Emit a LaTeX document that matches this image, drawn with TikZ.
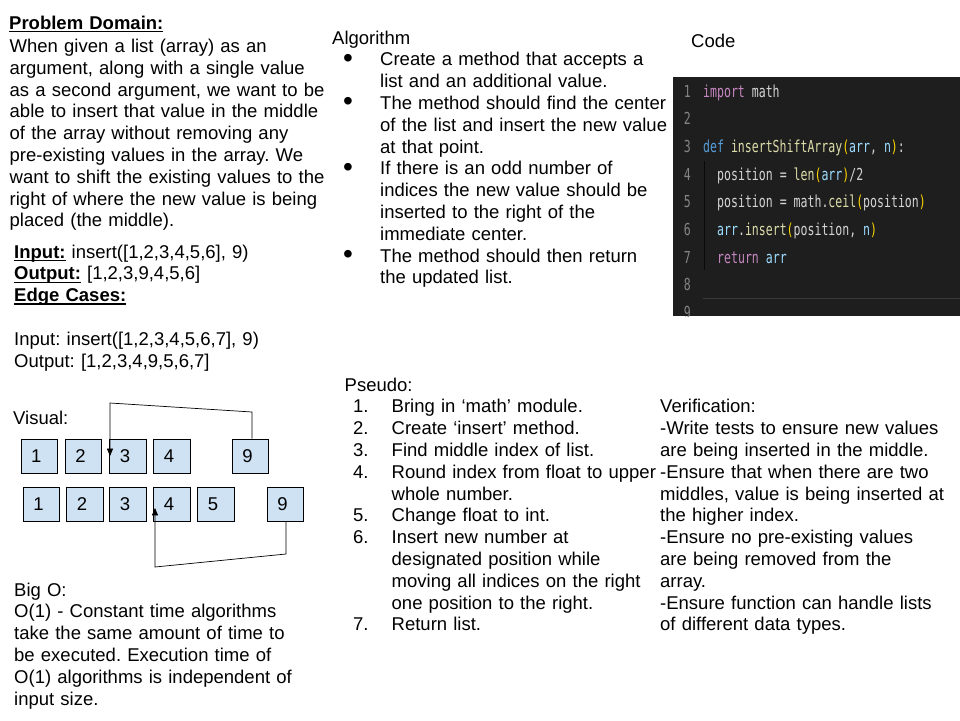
\documentclass[tikz,border=0pt]{standalone}
\usepackage{fontspec}
\setmainfont{Liberation Sans}
\newfontfamily\codefont[FakeStretch=0.70]{DejaVu Sans Mono}
\usetikzlibrary{arrows}
\frenchspacing
\definecolor{cellblue}{HTML}{CFE2F3}
\definecolor{codebg}{HTML}{1E1E1E}
\definecolor{codefg}{HTML}{D4D4D4}
\definecolor{lnfg}{HTML}{858585}
\definecolor{kwpurple}{HTML}{C586C0}
\definecolor{kwblue}{HTML}{569CD6}
\definecolor{fnyellow}{HTML}{DCDCAA}
\definecolor{brgold}{HTML}{FFD700}
\definecolor{param}{HTML}{9CDCFE}
\tikzstyle{txt}=[anchor=base west, inner sep=0pt, text width=340pt, align=left, font=\fontsize{18.5}{21.8}\selectfont]
\tikzstyle{cell}=[draw=black, line width=0.8pt, fill=cellblue, minimum height=34pt, text width=16.5pt, inner xsep=10pt, inner ysep=0pt, align=left, font=\fontsize{18.5}{21.8}\selectfont]
\tikzstyle{link}=[draw=black, line width=0.7pt, -triangle 45]
\tikzstyle{codeline}=[anchor=base west, inner sep=0pt, text=codefg, font=\codefont\fontsize{16.5}{16.5}\selectfont]
\tikzstyle{lnum}=[anchor=base east, inner sep=0pt, text=lnfg, font=\codefont\fontsize{16.5}{16.5}\selectfont]
\newcommand{\ulhead}[1]{\leavevmode\setbox0\hbox{\textbf{#1}}\rlap{\rule[-3.2pt]{\wd0}{1.5pt}}\box0\relax}
\newcommand{\bl}{\leavevmode\hspace*{11pt}\makebox[37pt][l]{\raisebox{-1.5pt}{\fontsize{28}{30}\selectfont\textbullet}}}
\newcommand{\bi}{\leavevmode\hspace*{48pt}}
\newcommand{\pn}[1]{\leavevmode\hspace*{8.5pt}\makebox[38.5pt][l]{#1}}
\newcommand{\br}[1]{\textcolor{brgold}{#1}}

\begin{document}
\begin{tikzpicture}[x=1pt,y=-1pt]
	\useasboundingbox[fill=white] (0,0) rectangle (960,720);
	% Problem Domain
	\node[txt] (domhead) at (9,29) {\ulhead{Problem Domain:}};
	\node[txt] (dombody) at (9.5,52.5) {When given a list (array) as an\\
		argument, along with a single value\\
		as a second argument, we want to be\\
		able to insert that value in the middle\\
		of the array without removing any\\
		pre-existing values in the array. We\\
		want to shift the existing values to the\\
		right of where the new value is being\\
		placed (the middle).};
	% Input / Output
	\node[txt] (inout) at (14,258) {\ulhead{Input:} insert([1,2,3,4,5,6], 9)\\
		\ulhead{Output:} [1,2,3,9,4,5,6]\\
		\ulhead{Edge Cases:}\\[21.8pt]
		Input: insert([1,2,3,4,5,6,7], 9)\\
		Output: [1,2,3,4,9,5,6,7]};
	% Algorithm
	\node[txt] (algo) at (332,44) {Algorithm\\
		\bl Create a method that accepts a\\
		\bi list and an additional value.\\
		\bl The method should find the center\\
		\bi of the list and insert the new value\\
		\bi at that point.\\
		\bl If there is an odd number of\\
		\bi indices the new value should be\\
		\bi inserted to the right of the\\
		\bi immediate center.\\
		\bl The method should then return\\
		\bi the updated list.};
	% Code
	\node[txt] (codehead) at (691,47) {Code};
	\fill[codebg] (673,77) rectangle (960,316);
	\begin{scope}
		\clip (673,77) rectangle (960,316);
		\foreach \i in {1,...,9}
			\node[lnum] (ln\i) at (691,{97+27.7*(\i-1)}) {\i};
		\draw[color=black!70!codebg, line width=0.6pt] (704,161) -- (704,270);
		\draw[color=white!12!codebg, line width=0.8pt] (703,298) -- (960,298);
		\node[codeline] (c1) at (703,97) {\textcolor{kwpurple}{import} math};
		\node[codeline] (c3) at (703,152.4) {\textcolor{kwblue}{def} \textcolor{fnyellow}{insertShiftArray}\br{(}\textcolor{param}{arr}, \textcolor{param}{n}\br{)}:};
		\node[codeline] (c4) at (717,180.1) {position = \textcolor{fnyellow}{len}\br{(}\textcolor{param}{arr}\br{)}/2};
		\node[codeline] (c5) at (717,207.8) {position = math.\textcolor{fnyellow}{ceil}\br{(}position\br{)}};
		\node[codeline] (c6) at (717,235.5) {\textcolor{param}{arr}.\textcolor{fnyellow}{insert}\br{(}position, \textcolor{param}{n}\br{)}};
		\node[codeline] (c7) at (717,263.2) {\textcolor{kwpurple}{return} \textcolor{param}{arr}};
	\end{scope}
	% Visual
	\node[txt] (vishead) at (13,424) {Visual:};
	\node[cell] (t1) at (39.3,456) {1};
	\node[cell] (t2) at (83.5,456) {2};
	\node[cell] (t3) at (128,456) {3};
	\node[cell] (t4) at (172,456) {4};
	\node[cell] (t9) at (250.5,456) {9};
	\node[cell] (u1) at (41.5,504.5) {1};
	\node[cell] (u2) at (85,504.5) {2};
	\node[cell] (u3) at (128,504.5) {3};
	\node[cell] (u4) at (172,504.5) {4};
	\node[cell] (u5) at (216,504.5) {5};
	\node[cell] (u9) at (285.5,504.5) {9};
	\coordinate (p1) at (252,412);
	\coordinate (p2) at (110,403);
	\coordinate (tipA) at (110,456);
	\coordinate (q1) at (286,554);
	\coordinate (q2) at (155,567);
	\coordinate (tipB) at (155,508);
	\draw[link] (t9.north -| p1) -- (p1) -- (p2) -- (tipA);
	\draw[link] (u9.south -| q1) -- (q1) -- (q2) -- (tipB);
	% Big O
	\node[txt] (bigo) at (14,596) {Big O:\\
		O(1) - Constant time algorithms\\
		take the same amount of time to\\
		be executed. Execution time of\\
		O(1) algorithms is independent of\\
		input size.};
	% Pseudo
	\node[txt] (pseudo) at (344.5,391) {Pseudo:\\
		\pn{1.}Bring in ‘math’ module.\\
		\pn{2.}Create ‘insert’ method.\\
		\pn{3.}Find middle index of list.\\
		\pn{4.}Round index from float to upper\\
		\pn{}whole number.\\
		\pn{5.}Change float to int.\\
		\pn{6.}Insert new number at\\
		\pn{}designated position while\\
		\pn{}moving all indices on the right\\
		\pn{}one position to the right.\\
		\pn{7.}Return list.};
	% Verification
	\node[txt] (verif) at (660,412.8) {Verification:\\
		-Write tests to ensure new values\\
		are being inserted in the middle.\\
		-Ensure that when there are two\\
		middles, value is being inserted at\\
		the higher index.\\
		-Ensure no pre-existing values\\
		are being removed from the\\
		array.\\
		-Ensure function can handle lists\\
		of different data types.};
\end{tikzpicture}
\end{document}
